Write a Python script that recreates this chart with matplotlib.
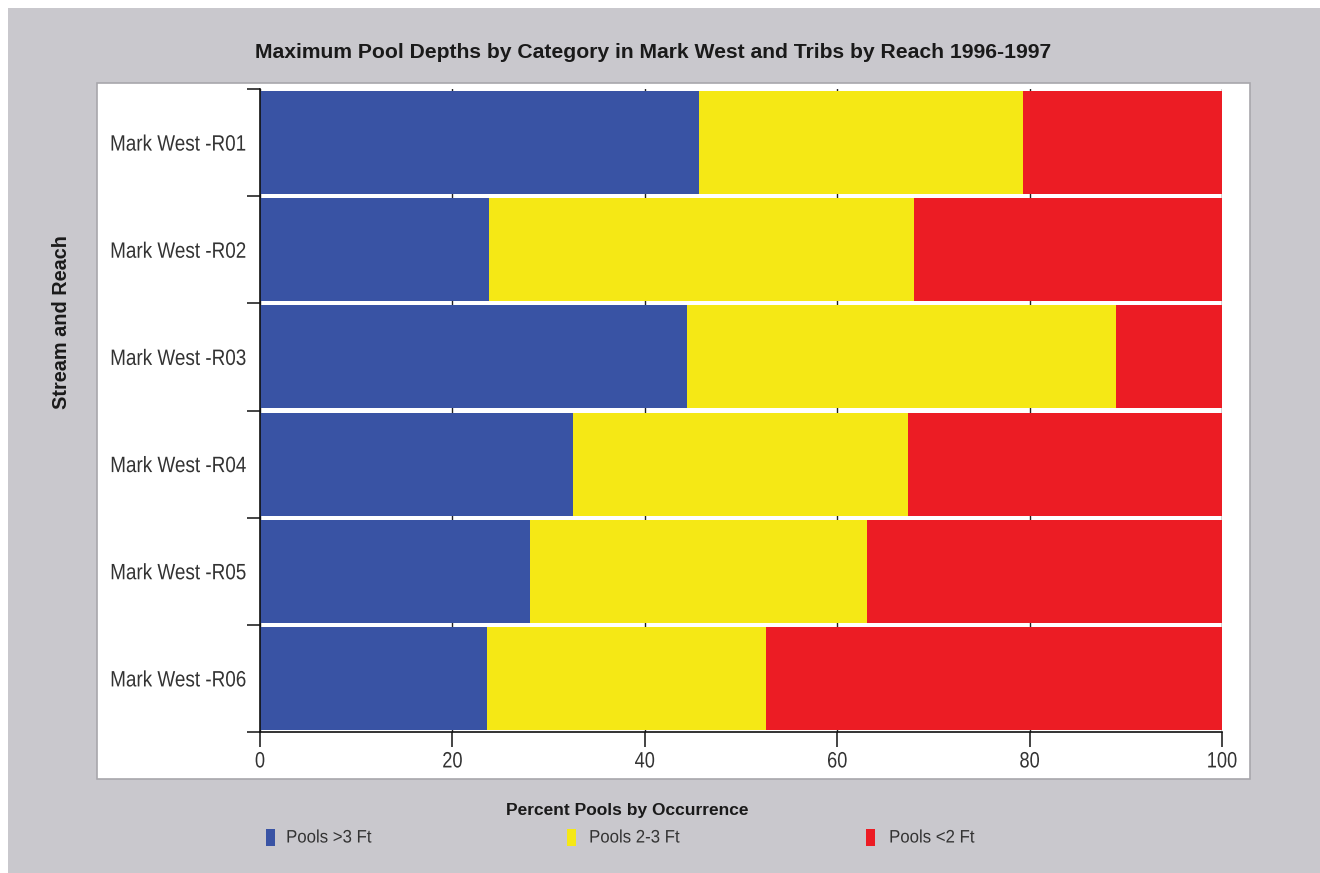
import matplotlib
matplotlib.use("Agg")
import matplotlib.pyplot as plt
from matplotlib.patches import Rectangle
from matplotlib.patheffects import AbstractPathEffect
from matplotlib.transforms import Affine2D

# Percent of pools in each maximum-depth class, per reach
reaches = ["Mark West -R01", "Mark West -R02", "Mark West -R03",
           "Mark West -R04", "Mark West -R05", "Mark West -R06"]
pools_over_3ft = [45.6, 23.8, 44.4, 32.5, 28.1, 23.6]
pools_2_to_3ft = [33.7, 44.2, 44.6, 34.9, 35.0, 29.0]
pools_under_2ft = [20.7, 32.0, 11.0, 32.6, 36.9, 47.4]
series_labels = ["Pools >3 Ft", "Pools 2-3 Ft", "Pools <2 Ft"]
x_ticks = [0, 20, 40, 60, 80, 100]

BLUE = "#3953a4"
YELLOW = "#f5e815"
RED = "#ec1c24"
GRAY = "#c9c8cd"
TEXT = "#333333"
FONT = ["Liberation Sans", "DejaVu Sans"]


class Squeeze(AbstractPathEffect):
    """Draw text horizontally condensed about its left/centre/right edge."""

    def __init__(self, sx, anchor="center"):
        super().__init__()
        self.sx = sx
        self.anchor = anchor

    def draw_path(self, renderer, gc, tpath, affine, rgbFace=None):
        ext = tpath.get_extents(affine)
        x0 = {"left": ext.x0, "right": ext.x1}.get(self.anchor,
                                                    0.5 * (ext.x0 + ext.x1))
        t = affine + Affine2D().translate(-x0, 0).scale(self.sx, 1).translate(x0, 0)
        renderer.draw_path(gc, tpath, t, rgbFace)


W, H = 1320, 873
fig = plt.figure(figsize=(W / 100, H / 100), dpi=100, facecolor="white")


def box(x0, y0, x1, y1):
    """Pixel box (top-left origin) -> figure fraction rect."""
    return [x0 / W, 1 - y1 / H, (x1 - x0) / W, (y1 - y0) / H]


# gray backdrop and white plotting panel
fig.patches.append(Rectangle((8 / W, 0), 1 - 8 / W, 1 - 8 / H,
                             transform=fig.transFigure, facecolor=GRAY,
                             edgecolor="none", zorder=-2))
px0, py0, pw, ph = box(97, 83, 1250, 779)
fig.patches.append(Rectangle((px0, py0), pw, ph, transform=fig.transFigure,
                             facecolor="white", edgecolor="#a8a7ac", lw=1.2,
                             zorder=-1))

ax = fig.add_axes(box(260, 89, 1222, 732))
ax.set_facecolor("white")

ypos = list(range(len(reaches)))
series = [pools_over_3ft, pools_2_to_3ft, pools_under_2ft]
colors = [BLUE, YELLOW, RED]
left = [0.0] * len(reaches)
for vals, color, label in zip(series, colors, series_labels):
    ax.barh(ypos, vals, left=left, height=0.962, color=color, label=label,
            edgecolor="none", zorder=2)
    left = [a + b for a, b in zip(left, vals)]

ax.set_xlim(0, 100)
ax.set_ylim(len(reaches) - 0.5, -0.5)

# x axis
ax.set_xticks(x_ticks)
ax.set_xticklabels([str(t) for t in x_ticks], family=FONT, fontsize=16,
                   color=TEXT)
ax.tick_params(axis="x", direction="out", length=11, width=1.1,
               color="#111111", pad=3)
ax.xaxis.grid(True, color="#222222", lw=1.0)
ax.set_axisbelow(True)
for lab in ax.get_xticklabels():
    lab.set_path_effects([Squeeze(0.82, "center")])

# y axis: ticks on band boundaries, labels centred on bars
ax.set_yticks([i - 0.5 for i in range(len(reaches) + 1)])
ax.set_yticklabels([])
ax.set_yticks(ypos, minor=True)
ax.set_yticklabels(reaches, minor=True, family=FONT, fontsize=16,
                   color=TEXT)
ax.tick_params(axis="y", which="major", direction="out", length=9.5,
               width=1.1, color="#111111")
ax.tick_params(axis="y", which="minor", length=0, pad=9.5)
for lab in ax.get_yticklabels(minor=True):
    lab.set_path_effects([Squeeze(0.85, "right")])

for side in ("top", "right"):
    ax.spines[side].set_visible(False)
for side in ("left", "bottom"):
    ax.spines[side].set_color("#111111")
    ax.spines[side].set_linewidth(1.2)

# titles
fig.text(653 / W, 1 - 53 / H,
         "Maximum Pool Depths by Category in Mark West and Tribs by Reach 1996-1997",
         ha="center", va="center", fontsize=15.2, fontweight="bold",
         family=FONT, color="#1a1a1a")
fig.text(62 / W, 1 - 322 / H, "Stream and Reach", rotation=90,
         ha="center", va="center", fontsize=14.3, fontweight="bold",
         family=FONT, color="#1a1a1a")
fig.text(627 / W, 1 - 810 / H, "Percent Pools by Occurrence",
         ha="center", va="center", fontsize=12.5, fontweight="bold",
         family=FONT, color="#1a1a1a")

# legend row
marker_x = [266, 567, 866]
label_x = [286, 589, 889]
for mx, lx, color, label in zip(marker_x, label_x, colors, series_labels):
    fig.patches.append(Rectangle((mx / W, 1 - 846 / H), 9 / W, 17 / H,
                                 transform=fig.transFigure, facecolor=color,
                                 edgecolor="none", zorder=3))
    t = fig.text(lx / W, 1 - 838 / H, label, ha="left", va="center",
                 fontsize=13, family=FONT, color=TEXT)
    t.set_path_effects([Squeeze(0.93, "left")])

fig.savefig("out.png", dpi=100, facecolor=fig.get_facecolor())
